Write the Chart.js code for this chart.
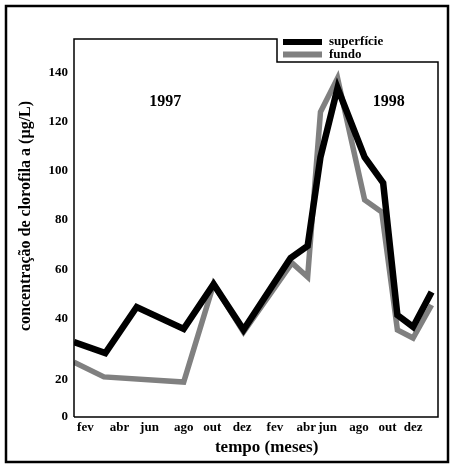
<!DOCTYPE html>
<html>
<head>
<meta charset="utf-8">
<script src="https://cdn.jsdelivr.net/npm/chart.js@4/dist/chart.umd.min.js"></script>
<style>
  html, body { margin: 0; padding: 0; background: #fff; }
  #wrap { width: 454px; height: 468px; }
</style>
</head>
<body>
<div id="wrap"><canvas id="chart" width="454" height="468"></canvas></div>
<script>
// x = month index (jan 1997 = 0), y = chlorophyll a (ug/L)
const superficieX = [-0.8, 1.4, 3.6, 6.9, 9.0, 11.1, 14.4, 15.6, 16.5, 17.7, 19.6, 20.9, 21.9, 23.0, 24.3];
const superficieY = [30.5, 26.0, 44.7, 35.8, 54.0, 35.4, 64.6, 69.5, 105.6, 133.7, 105.6, 95.1, 41.4, 36.6, 50.8];
const fundoX = [-0.8, 1.3, 6.9, 9.0, 11.1, 14.5, 15.6, 16.5, 17.7, 19.6, 20.8, 21.9, 23.0, 24.3];
const fundoY = [22.3, 16.3, 14.2, 54.0, 34.5, 62.6, 56.9, 123.9, 137.7, 88.2, 83.3, 35.4, 32.1, 45.5];

// tick labels as placed on the original figure
const xTickPos = [0.0, 2.4, 4.5, 6.9, 8.9, 11.0, 13.3, 15.5, 17.0, 19.2, 21.2, 23.0];
const xTickLabels = ["fev", "abr", "jun", "ago", "out", "dez", "fev", "abr", "jun", "ago", "out", "dez"];
const yTickPos = [0, 15, 40, 60, 80, 100, 120, 140];
const yTickLabels = ["0", "20", "40", "60", "80", "100", "120", "140"];

const yearLabels = ["1997", "1998"];
const yearX = [5.6, 21.3];
const yearY = [128, 128];

const SERIF = "'Liberation Serif', 'DejaVu Serif', serif";

function toPoints(xs, ys) {
  return xs.map((x, i) => ({ x: x, y: ys[i] }));
}

// frame, year labels and legend box
const decorations = {
  id: "decorations",
  afterDraw(chart) {
    const ctx = chart.ctx;
    const a = chart.chartArea;
    const xs = chart.scales.x, ys = chart.scales.y;
    const legLeft = 277, legBottom = 62;

    ctx.save();
    ctx.strokeStyle = "#000";
    ctx.lineWidth = 1.5;
    ctx.beginPath();
    ctx.moveTo(a.left, a.bottom);
    ctx.lineTo(a.left, a.top);
    ctx.lineTo(legLeft, a.top);
    ctx.lineTo(legLeft, legBottom);
    ctx.lineTo(a.right, legBottom);
    ctx.lineTo(a.right, a.bottom);
    ctx.lineTo(a.left, a.bottom);
    ctx.stroke();

    // outer border
    ctx.lineWidth = 2.5;
    ctx.strokeRect(6, 6, 442, 456);

    // years
    ctx.fillStyle = "#000";
    ctx.font = "bold 16px " + SERIF;
    ctx.textAlign = "center";
    ctx.textBaseline = "middle";
    yearLabels.forEach((t, i) => {
      ctx.fillText(t, xs.getPixelForValue(yearX[i]), ys.getPixelForValue(yearY[i]));
    });

    // legend
    ctx.font = "bold 13px " + SERIF;
    ctx.textAlign = "left";
    chart.data.datasets.forEach((ds, i) => {
      const y = 42 + i * 12.5;
      ctx.strokeStyle = ds.borderColor;
      ctx.lineWidth = 6;
      ctx.beginPath();
      ctx.moveTo(283, y);
      ctx.lineTo(322, y);
      ctx.stroke();
      ctx.fillText(ds.label, 329, y);
    });
    ctx.restore();
  }
};

new Chart(document.getElementById("chart"), {
  type: "line",
  data: {
    datasets: [
      {
        label: "superfície",
        data: toPoints(superficieX, superficieY),
        borderColor: "#000",
        borderWidth: 6.5,
        pointRadius: 0,
        tension: 0,
        borderJoinStyle: "miter",
        order: 0
      },
      {
        label: "fundo",
        data: toPoints(fundoX, fundoY),
        borderColor: "#808080",
        borderWidth: 5.5,
        pointRadius: 0,
        tension: 0,
        borderJoinStyle: "miter",
        order: 1
      }
    ]
  },
  options: {
    responsive: false,
    animation: false,
    layout: { padding: { top: 39, right: 16, left: 0, bottom: 0 } },
    plugins: { legend: { display: false }, tooltip: { enabled: false } },
    scales: {
      x: {
        type: "linear",
        min: -0.8,
        max: 24.75,
        grid: { display: false, drawTicks: false },
        border: { display: false },
        afterFit(s) { s.height = 51; },
        afterBuildTicks(s) { s.ticks = xTickPos.map(v => ({ value: v })); },
        ticks: {
          autoSkip: false,
          maxRotation: 0,
          padding: 3,
          color: "#000",
          font: { family: SERIF, size: 13, weight: "bold" },
          callback: (v, i) => xTickLabels[i]
        },
        title: {
          display: true,
          text: "     tempo (meses)",
          color: "#000",
          font: { family: SERIF, size: 17, weight: "bold" },
          padding: { top: 0, bottom: 10 }
        }
      },
      y: {
        type: "linear",
        min: 0,
        max: 153.6,
        grid: { display: false, drawTicks: false },
        border: { display: false },
        afterFit(s) { s.width = 74; },
        afterBuildTicks(s) { s.ticks = yTickPos.map(v => ({ value: v })); },
        ticks: {
          autoSkip: false,
          padding: 6,
          color: "#000",
          font: { family: SERIF, size: 13, weight: "bold" },
          callback: (v, i) => yTickLabels[i]
        },
        title: {
          display: true,
          text: "      concentração de clorofila a (µg/L)",
          color: "#000",
          font: { family: SERIF, size: 16, weight: "bold" },
          padding: { top: 16, bottom: 0 }
        }
      }
    }
  },
  plugins: [decorations]
});
</script>
</body>
</html>
